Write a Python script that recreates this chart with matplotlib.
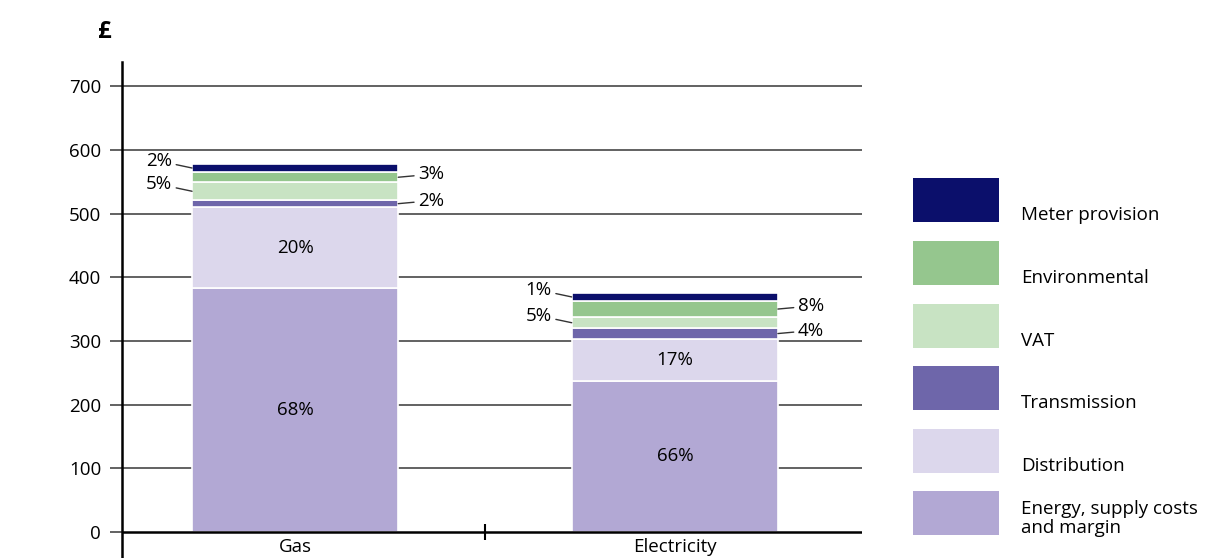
import matplotlib.pyplot as plt
from matplotlib.patches import Rectangle

# =========================================
# Data
# =========================================
categories = ["Gas", "Electricity"]
components = ["Energy, supply costs\nand margin", "Distribution", "Transmission",
              "VAT", "Environmental", "Meter provision"]
energy = [383, 237]
distribution = [127, 66]
transmission = [11, 17]
vat = [28, 17]
environmental = [16, 26]
meter = [13, 12]
pct_gas = ["68%", "20%", "2%", "5%", "3%", "2%"]
pct_elec = ["66%", "17%", "4%", "5%", "8%", "1%"]
y_ticks = [0, 100, 200, 300, 400, 500, 600, 700]

colors = ["#b2a8d4", "#dcd7ec", "#6e66aa", "#c8e3c3", "#95c68e", "#0b0f6b"]

plt.rcParams["font.family"] = ["Open Sans", "DejaVu Sans"]
fs = 13.5

fig = plt.figure(figsize=(12.18, 5.58), dpi=100)
ax = fig.add_axes([122 / 1218, 0, 740 / 1218, 496 / 558])

series = [energy, distribution, transmission, vat, environmental, meter]
x = [0, 1]
width = 0.543
bottoms = [0, 0]
seg_bounds = []  # (bottom, top) per series per category
for vals, col in zip(series, colors):
    ax.bar(x, vals, width=width, bottom=bottoms, color=col,
           edgecolor="white", linewidth=1.2, zorder=3)
    seg_bounds.append([(bottoms[i], bottoms[i] + vals[i]) for i in range(2)])
    bottoms = [bottoms[i] + vals[i] for i in range(2)]

# gridlines + outward ticks
for t in y_ticks[1:]:
    ax.axhline(t, color="#555555", linewidth=1.3, zorder=1)
ax.set_yticks(y_ticks)
ax.tick_params(axis="y", length=9, width=1.3, color="#555555", labelsize=fs,
               pad=6)
ax.set_xticks([])
ax.axhline(0, color="black", linewidth=1.8, zorder=4)
ax.vlines(0.5, -12, 12, color="black", linewidth=1.5, zorder=4)

ax.set_xlim(-0.456, 1.493)
ax.set_ylim(-41, 738)
for s in ["top", "right", "bottom"]:
    ax.spines[s].set_visible(False)
ax.spines["left"].set_linewidth(1.8)

for i, name in enumerate(categories):
    ax.text(x[i], -9, name, ha="center", va="top", fontsize=fs)

fig.text(105 / 1218, 1 - 32 / 558, "£", fontsize=17, fontweight="bold",
         ha="center", va="center")

# inside labels (energy, distribution)
for i, pcts in enumerate([pct_gas, pct_elec]):
    for k in [0, 1]:
        b, t = seg_bounds[k][i]
        ax.text(x[i], (b + t) / 2, pcts[k], ha="center", va="center",
                fontsize=fs, zorder=5)

# outside labels with leader lines
# left side: meter, VAT ; right side: environmental, transmission
side = {5: -1, 3: -1, 4: 1, 2: 1}
for i, pcts in enumerate([pct_gas, pct_elec]):
    for k, sgn in side.items():
        b, t = seg_bounds[k][i]
        mid = (b + t) / 2
        edge = x[i] + sgn * width / 2
        dy = 7 if sgn < 0 else 3
        ax.annotate(pcts[k], xy=(edge, mid), xytext=(sgn * 20, dy),
                    textcoords="offset pixels", fontsize=fs,
                    ha="right" if sgn < 0 else "left", va="center",
                    arrowprops=dict(arrowstyle="-", color="#333333",
                                    linewidth=1, shrinkA=1, shrinkB=0),
                    zorder=5, annotation_clip=False)

# legend drawn by hand
legend_top = [178, 241, 304, 366, 429, 491]
leg_order = [5, 4, 3, 2, 1, 0]
for ytop, k in zip(legend_top, leg_order):
    fig.add_artist(Rectangle((913 / 1218, 1 - (ytop + 44) / 558), 86 / 1218,
                             44 / 558, transform=fig.transFigure,
                             facecolor=colors[k], edgecolor="none"))
    fig.text(1021 / 1218, 1 - (ytop + 46) / 558, components[k], fontsize=fs,
             ha="left", va="bottom", linespacing=1.05)

fig.savefig("out.png", dpi=100)
